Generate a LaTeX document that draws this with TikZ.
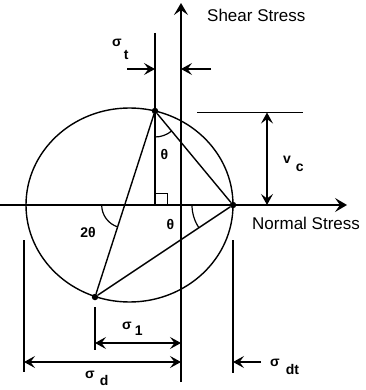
\documentclass[tikz,border=0pt]{standalone}
\usepackage{fontspec}
\setmainfont{Liberation Sans}
\usetikzlibrary{arrows.meta, angles, calc}
\tikzset{
  axisline/.style={line width=1.7pt, -{Stealth[length=12pt, width=14pt, inset=5pt]}},
  circline/.style={line width=1.4pt},
  chord/.style={line width=1.4pt},
  dimline/.style={line width=1.1pt},
  dimarrow/.style={line width=1.2pt, -{Stealth[length=11pt, width=12pt, inset=4.5pt]}},
  dimboth/.style={line width=1.2pt,
    {Stealth[length=11pt, width=12pt, inset=4.5pt]}-{Stealth[length=11pt, width=12pt, inset=4.5pt]}},
  dot/.style={circle, fill, inner sep=0pt, minimum size=6.5pt},
  greek/.style={font=\fontsize{14}{14}\selectfont\bfseries, inner sep=0pt},
  axislabel/.style={font=\fontsize{17}{17}\selectfont, inner sep=0pt},
  anglemark/.style={draw, line width=1.2pt},
}
\newcommand{\dimlbl}[4]{#1\hspace{#3}\raisebox{-#4}{#2}}

\begin{document}
\begin{tikzpicture}[x=1pt, y=-1pt]
  \useasboundingbox (0,0) rectangle (365,390);

  % Axes
  \coordinate (O) at (181,205);
  \coordinate (xl) at (0,205);
  \coordinate (xr) at (347,205);
  \coordinate (yb) at (181,382);
  \coordinate (yt) at (181,3);
  \draw[axisline] (xl) -- (xr);
  \draw[axisline] (yb) -- (yt);
  \node[axislabel, anchor=west] (shear) at (207,15) {Shear Stress};
  \node[axislabel, anchor=west] (normal) at (252,223) {Normal Stress};

  % Mohr circle and poles
  \draw[circline] (129.5,205) ellipse [x radius=103.5, y radius=97];
  \node[dot] (P) at (155,111) {};
  \node[dot] (Q) at (95,297) {};
  \node[dot] (R) at (233,205) {};
  \coordinate (F) at (P |- O);
  \coordinate (I) at (intersection of P.center--Q.center and xl--O);

  \draw[chord] (P) -- (Q);
  \draw[chord] (P) -- (R);
  \draw[chord] (Q) -- (R);
  \draw[dimline] (P) -- (F);
  \draw[line width=1pt] (F) rectangle ++(12,-12);

  % Angles
  \pic[anglemark, angle radius=26pt] {angle = F--P--R};
  \pic[anglemark, angle radius=41pt] {angle = O--R--Q};
  \pic[anglemark, angle radius=23pt] {angle = xl--I--Q};
  \node[greek] (thP) at (164.5,154) {θ};
  \node[greek] (thR) at (170.5,224) {θ};
  \node[greek] (thI) at (88,232) {2θ};

  % sigma_t
  \coordinate (tTop) at (155,33);
  \coordinate (tL) at (127,69);
  \coordinate (tR) at (211,69);
  \draw[dimline] (tTop) -- (P);
  \draw[dimarrow] (tL) -- (tL -| P);
  \draw[dimarrow] (tR) -- (tR -| O);
  \node[greek, anchor=base west] (sigt) at (112,47) {\dimlbl{σ}{t}{2pt}{13pt}};

  % v_c
  \coordinate (vL) at (197,112.5);
  \coordinate (vR) at (303,112.5);
  \coordinate (vTop) at (267,112.5);
  \draw[dimline] (vL) -- (vR);
  \draw[dimboth] (vTop) -- (vTop |- O);
  \node[greek, anchor=base west] (vc) at (283,164) {\dimlbl{v}{c}{5pt}{7pt}};

  % sigma_1
  \draw[dimline] (Q |- 0,307) -- (Q |- 0,350);
  \draw[dimboth] (Q |- 0,343) -- (O |- 0,343);
  \node[greek, anchor=base west] (sig1) at (122,329) {\dimlbl{σ}{1}{3pt}{6pt}};

  % sigma_d
  \coordinate (dTop) at (24,240);
  \coordinate (dBot) at (24,372);
  \draw[dimline] (dTop) -- (dBot);
  \draw[dimboth] (dTop |- 0,362) -- (O |- 0,362);
  \node[greek, anchor=base west] (sigd) at (85,378) {\dimlbl{σ}{d}{5pt}{7pt}};

  % sigma_dt
  \coordinate (dtL) at (261,362);
  \draw[dimline] (R |- 0,240) -- (R |- 0,373);
  \draw[dimarrow] (dtL) -- (dtL -| R);
  \node[greek, anchor=base west] (sigdt) at (270,366) {\dimlbl{σ}{dt}{6pt}{8pt}};

\end{tikzpicture}
\end{document}
